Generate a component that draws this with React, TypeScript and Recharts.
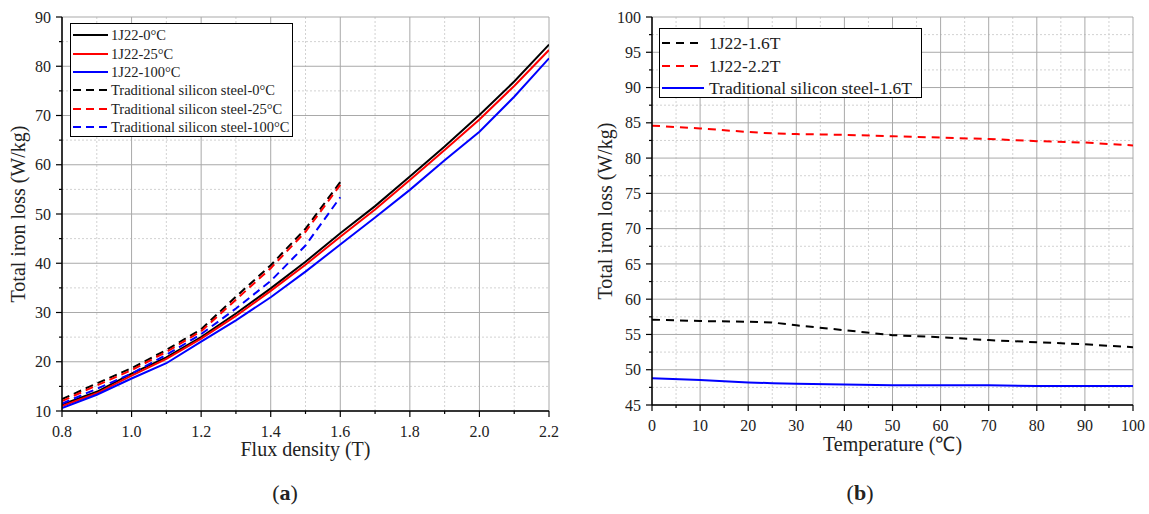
import { CartesianGrid, Line, LineChart, XAxis, YAxis } from 'recharts';

const SERIF = "'Liberation Serif', 'Times New Roman', serif";

// (a) iron loss vs flux density
const fluxDensity = [0.8, 0.9, 1.0, 1.1, 1.2, 1.3, 1.4, 1.5, 1.6, 1.7, 1.8, 1.9, 2.0, 2.1, 2.2];
const j22At0 = [11.3, 13.9, 17.6, 20.9, 25.0, 29.8, 34.9, 40.3, 46.1, 51.6, 57.6, 63.7, 70.1, 76.9, 84.4];
const j22At25 = [11.0, 13.6, 17.2, 20.6, 24.7, 29.3, 34.4, 39.7, 45.4, 50.9, 56.9, 63.0, 69.2, 76.0, 83.3];
const j22At100 = [10.6, 13.3, 16.6, 19.7, 24.1, 28.4, 33.1, 38.3, 43.8, 49.3, 54.9, 60.9, 66.7, 73.8, 81.6];
const siAt0 = [12.4, 15.6, 18.7, 22.4, 26.6, 33.2, 39.6, 47.0, 56.5];
const siAt25 = [12.0, 15.2, 18.3, 22.0, 26.2, 32.6, 39.0, 46.4, 55.9];
const siAt100 = [11.5, 14.5, 17.6, 21.4, 25.6, 30.8, 36.4, 43.6, 53.4];

const xTicksA = [0.8, 0.9, 1.0, 1.1, 1.2, 1.3, 1.4, 1.5, 1.6, 1.7, 1.8, 1.9, 2.0, 2.1, 2.2];
const xMajorA = ['0.8', '1.0', '1.2', '1.4', '1.6', '1.8', '2.0', '2.2'];
const xMinorA = [0.9, 1.1, 1.3, 1.5, 1.7, 1.9, 2.1];
const yTicksA = [10, 15, 20, 25, 30, 35, 40, 45, 50, 55, 60, 65, 70, 75, 80, 85, 90];
const yMajorA = [10, 20, 30, 40, 50, 60, 70, 80, 90];
const yMinorA = [15, 25, 35, 45, 55, 65, 75, 85];

// (b) iron loss vs temperature
const temperature = [0, 10, 20, 25, 30, 40, 50, 60, 70, 80, 90, 100];
const j22At16T = [57.1, 56.9, 56.8, 56.7, 56.3, 55.6, 54.9, 54.6, 54.2, 53.9, 53.6, 53.2];
const j22At22T = [84.6, 84.2, 83.7, 83.5, 83.4, 83.3, 83.1, 82.9, 82.7, 82.4, 82.2, 81.8];
const siAt16T = [48.8, 48.55, 48.2, 48.1, 48.0, 47.9, 47.8, 47.8, 47.8, 47.7, 47.7, 47.7];

const xTicksB = [0, 5, 10, 15, 20, 25, 30, 35, 40, 45, 50, 55, 60, 65, 70, 75, 80, 85, 90, 95, 100];
const xMajorB = [0, 10, 20, 30, 40, 50, 60, 70, 80, 90, 100];
const xMinorB = [5, 15, 25, 35, 45, 55, 65, 75, 85, 95];
const yTicksB = [45, 47.5, 50, 52.5, 55, 57.5, 60, 62.5, 65, 67.5, 70, 72.5, 75, 77.5, 80, 82.5, 85, 87.5, 90, 92.5, 95, 97.5, 100];
const yMajorB = [45, 50, 55, 60, 65, 70, 75, 80, 85, 90, 95, 100];
const yMinorB = [47.5, 52.5, 57.5, 62.5, 67.5, 72.5, 77.5, 82.5, 87.5, 92.5, 97.5];

const seriesA = [
  { key: 'j0', name: '1J22-0\u00b0C', values: j22At0, color: '#000000', dash: undefined },
  { key: 'j25', name: '1J22-25\u00b0C', values: j22At25, color: '#ff0000', dash: undefined },
  { key: 'j100', name: '1J22-100\u00b0C', values: j22At100, color: '#0000ff', dash: undefined },
  { key: 's0', name: 'Traditional silicon steel-0\u00b0C', values: siAt0, color: '#000000', dash: '8 5' },
  { key: 's25', name: 'Traditional silicon steel-25\u00b0C', values: siAt25, color: '#ff0000', dash: '8 5' },
  { key: 's100', name: 'Traditional silicon steel-100\u00b0C', values: siAt100, color: '#0000ff', dash: '8 5' },
];

const seriesB = [
  { key: 'j16', name: '1J22-1.6T', values: j22At16T, color: '#000000', dash: '8 6' },
  { key: 'j22', name: '1J22-2.2T', values: j22At22T, color: '#ff0000', dash: '8 6' },
  { key: 's16', name: 'Traditional silicon steel-1.6T', values: siAt16T, color: '#0000ff', dash: undefined },
];

const dataA = fluxDensity.map((x, i) => {
  const row: Record<string, number> = { x };
  seriesA.forEach((s) => {
    if (i < s.values.length) row[s.key] = s.values[i];
  });
  return row;
});

const dataB = temperature.map((x, i) => {
  const row: Record<string, number> = { x };
  seriesB.forEach((s) => (row[s.key] = s.values[i]));
  return row;
});

const makeXTick = (isMajor: (v: number) => boolean, fmt: (v: number) => string) => (props: any) => {
  const { x, y, payload } = props;
  const major = isMajor(payload.value);
  return (
    <g>
      <line x1={x} x2={x} y1={y} y2={y + (major ? 6 : 3)} stroke="#000" strokeWidth={1.2} />
      {major && (
        <text x={x} y={y + 26} textAnchor="middle" fill="#222" style={{ fontFamily: SERIF, fontSize: 16 }}>
          {fmt(payload.value)}
        </text>
      )}
    </g>
  );
};

const makeYTick = (isMajor: (v: number) => boolean) => (props: any) => {
  const { x, y, payload } = props;
  const major = isMajor(payload.value);
  return (
    <g>
      <line x1={x} x2={x - (major ? 6 : 3)} y1={y} y2={y} stroke="#000" strokeWidth={1.2} />
      {major && (
        <text x={x - 11} y={y} dy="0.35em" textAnchor="end" fill="#222" style={{ fontFamily: SERIF, fontSize: 16 }}>
          {payload.value}
        </text>
      )}
    </g>
  );
};

const frame = { stroke: '#000', strokeWidth: 1.5 };

function LegendBox({ items, left, top, width, height, fontSize, rowStart, rowGap, sampleW, textLeft }: any) {
  return (
    <div
      style={{
        position: 'absolute', left, top, width, height, boxSizing: 'border-box',
        border: '1.5px solid #000', background: '#fff', fontFamily: SERIF, fontSize, color: '#222',
      }}
    >
      {items.map((s: any, i: number) => (
        <div key={s.key} style={{ position: 'absolute', left: 0, top: rowStart + i * rowGap - 10, height: 20, whiteSpace: 'nowrap' }}>
          <svg width={sampleW} height={20} style={{ position: 'absolute', left: 1, top: 0 }}>
            <line x1={1} x2={sampleW} y1={10} y2={10} stroke={s.color} strokeWidth={2} strokeDasharray={s.dash} />
          </svg>
          <span style={{ position: 'absolute', left: textLeft, top: 0, lineHeight: '20px' }}>{s.name}</span>
        </div>
      ))}
    </div>
  );
}

const textStyle = (left: number, top: number, fontSize: number, rotate = false): any => ({
  position: 'absolute', left, top, fontFamily: SERIF, fontSize, lineHeight: 1, color: '#222', whiteSpace: 'nowrap',
  transform: rotate ? 'translate(-50%, -50%) rotate(-90deg)' : 'translate(-50%, 0)',
});

export default function App() {
  return (
    <div style={{ position: 'absolute', left: 0, top: 0, width: 1149, height: 514, background: '#fff', overflow: 'hidden' }}>
      <div style={{ position: 'absolute', left: 0, top: 0 }}>
        <LineChart width={580} height={514} data={dataA} margin={{ top: 17, right: 31, left: 0, bottom: 43 }}>
          <CartesianGrid stroke="#d2d2d2" strokeDasharray="2 2" horizontalValues={yMinorA} verticalValues={xMinorA} />
          <CartesianGrid stroke="#a9a9a9" horizontalValues={yMajorA} verticalValues={xMajorA.map(Number)} />
          <XAxis
            dataKey="x" type="number" domain={[0.8, 2.2]} ticks={xTicksA} interval={0} height={60}
            allowDataOverflow tickSize={0} tickMargin={0} tickLine={false} axisLine={frame}
            tick={makeXTick((v) => xMajorA.includes(v.toFixed(1)), (v) => v.toFixed(1))}
          />
          <YAxis
            type="number" domain={[10, 90]} ticks={yTicksA} interval={0} width={62}
            allowDataOverflow tickSize={0} tickMargin={0} tickLine={false} axisLine={frame}
            tick={makeYTick((v) => yMajorA.includes(v))}
          />
          <XAxis xAxisId="top" orientation="top" dataKey="x" type="number" domain={[0.8, 2.2]} height={0} allowDataOverflow tick={false} tickLine={false} axisLine={frame} />
          <YAxis yAxisId="right" orientation="right" type="number" domain={[10, 90]} width={0} allowDataOverflow tick={false} tickLine={false} axisLine={frame} />
          {seriesA.map((s) => (
            <Line
              key={s.key} dataKey={s.key} name={s.name} type="linear" stroke={s.color} strokeWidth={2}
              strokeDasharray={s.dash} dot={false} isAnimationActive={false}
            />
          ))}
        </LineChart>
      </div>

      <div style={{ position: 'absolute', left: 590, top: 0 }}>
        <LineChart width={559} height={514} data={dataB} margin={{ top: 17, right: 16, left: 0, bottom: 49 }}>
          <CartesianGrid stroke="#d2d2d2" strokeDasharray="2 2" horizontalValues={yMinorB} verticalValues={xMinorB} />
          <CartesianGrid stroke="#a9a9a9" horizontalValues={yMajorB} verticalValues={xMajorB} />
          <XAxis
            dataKey="x" type="number" domain={[0, 100]} ticks={xTicksB} interval={0} height={60}
            allowDataOverflow tickSize={0} tickMargin={0} tickLine={false} axisLine={frame}
            tick={makeXTick((v) => xMajorB.includes(v), (v) => String(v))}
          />
          <YAxis
            type="number" domain={[45, 100]} ticks={yTicksB} interval={0} width={62}
            allowDataOverflow tickSize={0} tickMargin={0} tickLine={false} axisLine={frame}
            tick={makeYTick((v) => yMajorB.includes(v))}
          />
          <XAxis xAxisId="top" orientation="top" dataKey="x" type="number" domain={[0, 100]} height={0} allowDataOverflow tick={false} tickLine={false} axisLine={frame} />
          <YAxis yAxisId="right" orientation="right" type="number" domain={[45, 100]} width={0} allowDataOverflow tick={false} tickLine={false} axisLine={frame} />
          {seriesB.map((s) => (
            <Line
              key={s.key} dataKey={s.key} name={s.name} type="linear" stroke={s.color} strokeWidth={2}
              strokeDasharray={s.dash} dot={false} isAnimationActive={false}
            />
          ))}
        </LineChart>
      </div>

      <LegendBox items={seriesA} left={70} top={23} width={223} height={114} fontSize={14.5} rowStart={11.3} rowGap={18.3} sampleW={36} textLeft={40} />
      <LegendBox items={seriesB} left={659} top={28} width={263} height={70} fontSize={17.5} rowStart={14} rowGap={22.5} sampleW={43} textLeft={49} />

      <div style={textStyle(18, 214, 20, true)}>Total iron loss (W/kg)</div>
      <div style={textStyle(305.5, 439, 20)}>Flux density (T)</div>
      <div style={textStyle(605, 211, 20, true)}>Total iron loss (W/kg)</div>
      <div style={textStyle(892.5, 434, 20)}>{'Temperature (\u2103)'}</div>

      <div style={textStyle(285, 482, 22)}>
        (<b>a</b>)
      </div>
      <div style={textStyle(860, 482, 22)}>
        (<b>b</b>)
      </div>
    </div>
  );
}
